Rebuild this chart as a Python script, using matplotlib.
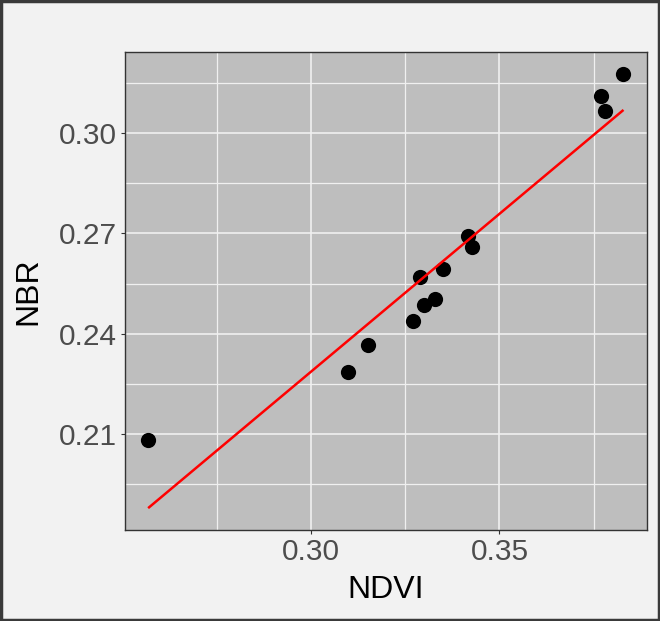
import matplotlib
matplotlib.use('Agg')
import matplotlib.pyplot as plt
from matplotlib.patches import Rectangle
from matplotlib.ticker import FixedLocator

# data
ndvi = [0.3829, 0.3769, 0.3781, 0.3417, 0.3427, 0.3350, 0.3289,
        0.3329, 0.3299, 0.3269, 0.3150, 0.3097, 0.2567]
nbr = [0.3178, 0.3112, 0.3068, 0.2692, 0.2658, 0.2595, 0.2570,
       0.2505, 0.2487, 0.2439, 0.2366, 0.2285, 0.2080]

# fitted line (end points)
fit_ndvi = [0.2569, 0.3827]
fit_nbr = [0.1879, 0.3068]

x_major = [0.30, 0.35]
x_minor = [0.275, 0.325, 0.375]
y_major = [0.21, 0.24, 0.27, 0.30]
y_minor = [0.195, 0.225, 0.255, 0.285, 0.315]

plt.rcParams['font.family'] = ['Liberation Sans', 'DejaVu Sans']

fig = plt.figure(figsize=(6.6, 6.21), dpi=100, facecolor='#F2F2F2')
ax = fig.add_axes([125 / 660, 1 - 530 / 621, 522 / 660, 478.3 / 621])
ax.set_facecolor('#BEBEBE')

ax.set_xlim(0.2505, 0.3892)
ax.set_ylim(0.1811, 0.3245)

ax.xaxis.set_major_locator(FixedLocator(x_major))
ax.xaxis.set_minor_locator(FixedLocator(x_minor))
ax.yaxis.set_major_locator(FixedLocator(y_major))
ax.yaxis.set_minor_locator(FixedLocator(y_minor))
ax.set_xticklabels(['%.2f' % v for v in x_major])
ax.set_yticklabels(['%.2f' % v for v in y_major])

ax.grid(which='major', color='#F0F0F0', linewidth=1.2, zorder=0)
ax.grid(which='minor', color='#F0F0F0', linewidth=0.9, zorder=0)
ax.set_axisbelow(True)

ax.tick_params(which='major', length=3, width=0.8, color='#333333',
               labelsize=21.5, labelcolor='#4D4D4D', pad=3)
ax.tick_params(which='minor', length=0)

for s in ax.spines.values():
    s.set_color('#333333')
    s.set_linewidth(1.0)

ax.scatter(ndvi, nbr, s=120, color='black', zorder=3, linewidths=0)
ax.plot(fit_ndvi, fit_nbr, color='red', linewidth=1.8, zorder=4)

ax.set_xlabel('NDVI', fontsize=23, color='black')
ax.set_ylabel('NBR', fontsize=23, color='black')
ax.xaxis.set_label_coords(0.5, -(590 - 530) / 478.3, transform=ax.transAxes)
ax.yaxis.set_label_coords(-(125 - 28) / 522, 0.5, transform=ax.transAxes)
ax.xaxis.label.set_verticalalignment('center')
ax.yaxis.label.set_verticalalignment('center')

# outer border of the figure
fig.patches.append(Rectangle((0.002, 0.002), 0.996, 0.996, transform=fig.transFigure,
                             fill=False, edgecolor='#3A3A3A', linewidth=2.5))

fig.savefig('out.png', dpi=100, facecolor=fig.get_facecolor())
